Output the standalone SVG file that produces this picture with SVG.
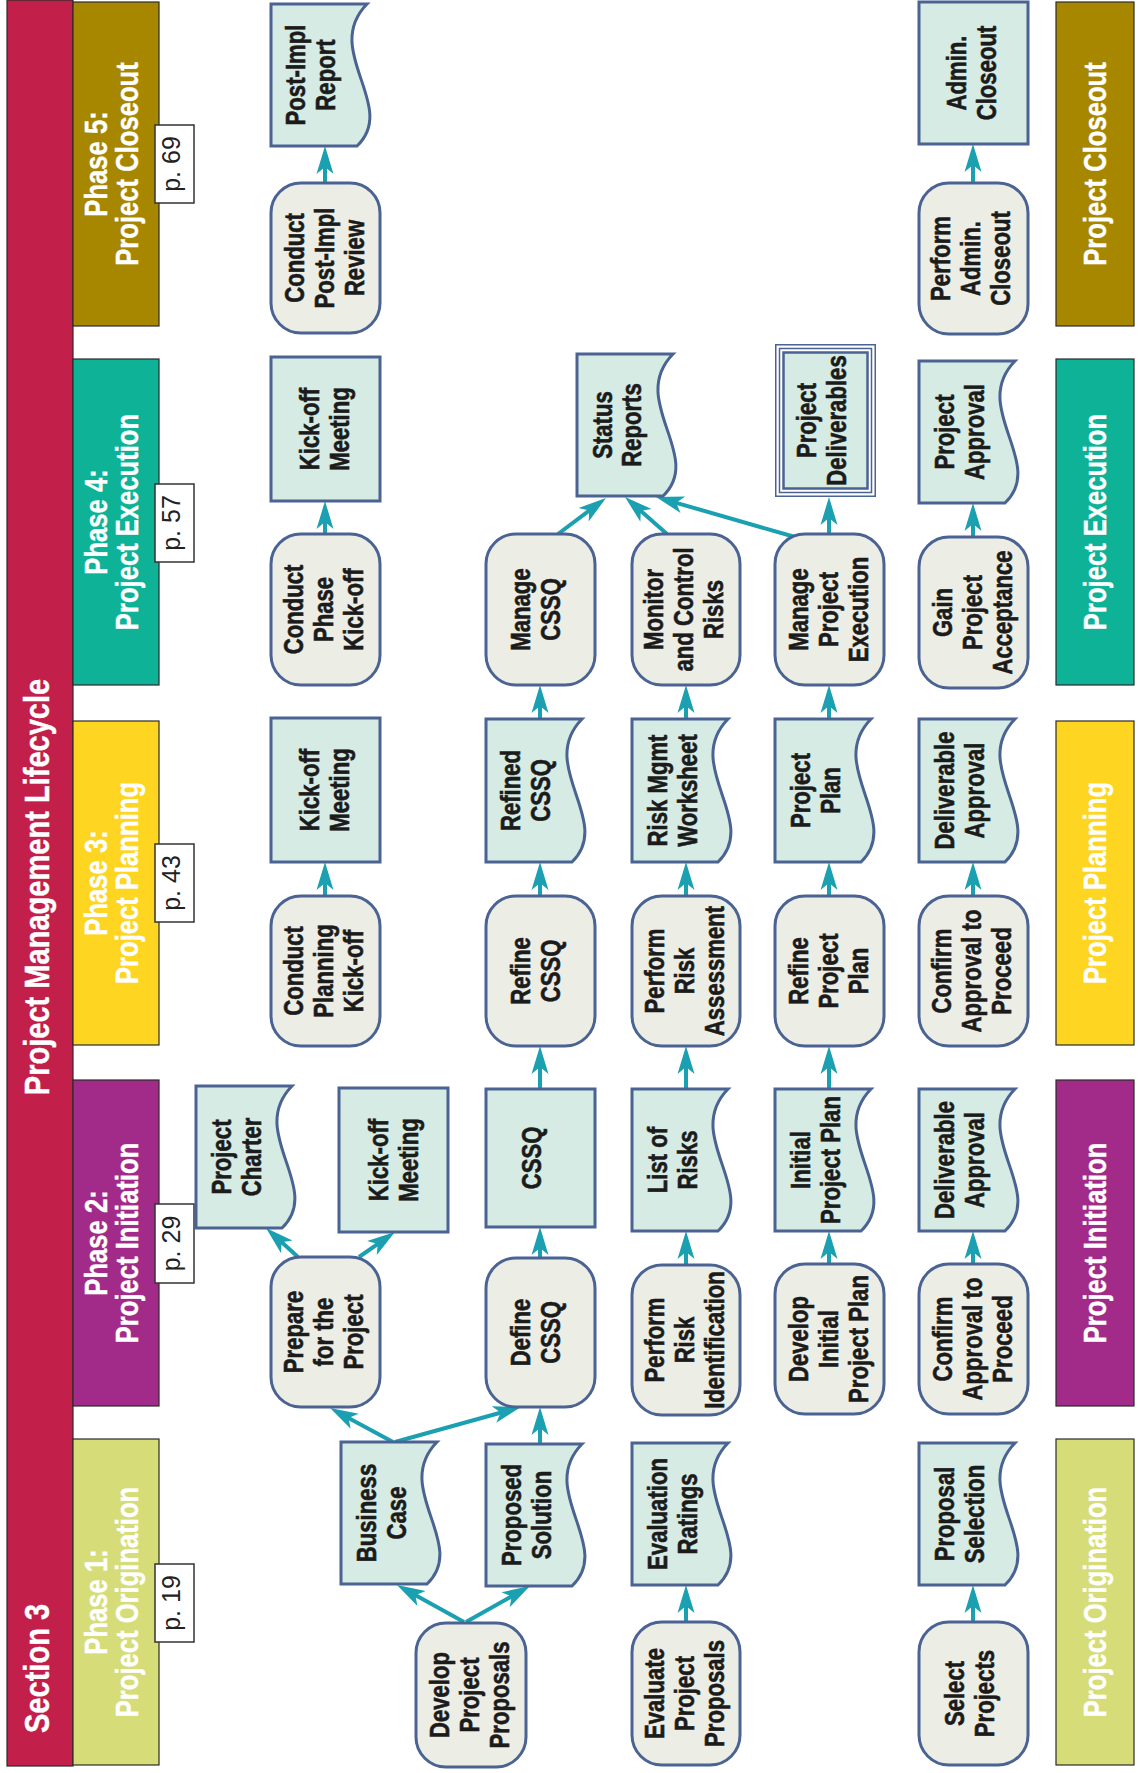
<svg xmlns="http://www.w3.org/2000/svg" width="1140" height="1773" viewBox="0 0 1140 1773">
<defs>
<style>
.proc{fill:#ECEDE5;stroke:#4A6393;stroke-width:3}
.doc{fill:#D5EBE3;stroke:#4A6393;stroke-width:3}
.t{font-family:'Liberation Sans',Arial,sans-serif;font-weight:700;font-size:27px;fill:#1b1b1b;stroke:#1b1b1b;stroke-width:0.6;text-anchor:middle}
.hd{font-family:'Liberation Sans',Arial,sans-serif;font-weight:700;font-size:30.5px;fill:#ffffff;stroke:#ffffff;stroke-width:0.4;text-anchor:middle}
.ttl{font-family:'Liberation Sans',Arial,sans-serif;font-weight:700;font-size:35px;fill:#ffffff;stroke:#ffffff;stroke-width:0.4}
.pbox{fill:#ffffff;stroke:#333333;stroke-width:1.5}
.pg{font-family:'Liberation Sans',Arial,sans-serif;font-size:25px;fill:#222222;text-anchor:middle}
.ph{stroke:#2b2b2b;stroke-width:1.2}
#connectors line{stroke:#1BA0B2;stroke-width:4;marker-end:url(#ah)}
</style>
<marker id="ah" markerUnits="userSpaceOnUse" markerWidth="32" markerHeight="20" viewBox="-18 -10 32 20" refX="0" refY="0" orient="auto">
<path d="M12,0 L-16,-8.5 L-9,0 L-16,8.5 Z" fill="#1BA0B2"/>
</marker>
</defs>
<rect width="1140" height="1773" fill="#ffffff"/>
<g transform="translate(0,1773) rotate(-90)">

<g id="banner">
<rect x="7" y="7" width="1766" height="66" fill="#C21F4A" class="ph"/>
<text class="ttl" transform="translate(40 0) scale(.83 1)" x="0" y="49">Section 3</text>
<text class="ttl" transform="translate(886 0) scale(.83 1)" x="0" y="49" text-anchor="middle">Project Management Lifecycle</text>
</g>

<g id="phase1-header">
<rect x="8" y="73" width="326" height="86" fill="#D6DD78" class="ph"/>
<text class="hd" transform="translate(171 0) scale(.84 1)" y="107"><tspan x="0">Phase 1:</tspan><tspan x="0" dy="31">Project Origination</tspan></text>
<rect class="pbox" x="131" y="155" width="78" height="39"/>
<text class="pg" x="170" y="180">p. 19</text>
</g>
<g id="phase2-header">
<rect x="367" y="73" width="326" height="86" fill="#A22B8A" class="ph"/>
<text class="hd" transform="translate(530 0) scale(.84 1)" y="107"><tspan x="0">Phase 2:</tspan><tspan x="0" dy="31">Project Initiation</tspan></text>
<rect class="pbox" x="490" y="155" width="79" height="39"/>
<text class="pg" x="529.5" y="180">p. 29</text>
</g>
<g id="phase3-header">
<rect x="728" y="73" width="324" height="86" fill="#FED520" class="ph"/>
<text class="hd" transform="translate(890 0) scale(.84 1)" y="107"><tspan x="0">Phase 3:</tspan><tspan x="0" dy="31">Project Planning</tspan></text>
<rect class="pbox" x="851" y="155" width="78" height="39"/>
<text class="pg" x="890" y="180">p. 43</text>
</g>
<g id="phase4-header">
<rect x="1088" y="73" width="326" height="86" fill="#0EB296" class="ph"/>
<text class="hd" transform="translate(1251 0) scale(.84 1)" y="107"><tspan x="0">Phase 4:</tspan><tspan x="0" dy="31">Project Execution</tspan></text>
<rect class="pbox" x="1211" y="155" width="78" height="39"/>
<text class="pg" x="1250" y="180">p. 57</text>
</g>
<g id="phase5-header">
<rect x="1447" y="73" width="324" height="86" fill="#A78700" class="ph"/>
<text class="hd" transform="translate(1609 0) scale(.84 1)" y="107"><tspan x="0">Phase 5:</tspan><tspan x="0" dy="31">Project Closeout</tspan></text>
<rect class="pbox" x="1570" y="155" width="78" height="39"/>
<text class="pg" x="1609" y="180">p. 69</text>
</g>

<g id="phase1-footer"><rect x="8" y="1056" width="326" height="78" fill="#D6DD78" class="ph"/><text class="hd" transform="translate(171 0) scale(.84 1)" x="0" y="1106">Project Origination</text></g>
<g id="phase2-footer"><rect x="367" y="1056" width="326" height="78" fill="#A22B8A" class="ph"/><text class="hd" transform="translate(530 0) scale(.84 1)" x="0" y="1106">Project Initiation</text></g>
<g id="phase3-footer"><rect x="728" y="1056" width="324" height="78" fill="#FED520" class="ph"/><text class="hd" transform="translate(890 0) scale(.84 1)" x="0" y="1106">Project Planning</text></g>
<g id="phase4-footer"><rect x="1088" y="1056" width="326" height="78" fill="#0EB296" class="ph"/><text class="hd" transform="translate(1251 0) scale(.84 1)" x="0" y="1106">Project Execution</text></g>
<g id="phase5-footer"><rect x="1447" y="1056" width="324" height="78" fill="#A78700" class="ph"/><text class="hd" transform="translate(1609 0) scale(.84 1)" x="0" y="1106">Project Closeout</text></g>

<g id="connectors">
<line x1="151" y1="464" x2="182.2" y2="407.5"/>
<line x1="151" y1="466" x2="181.1" y2="519.5"/>
<line x1="331" y1="393" x2="359.3" y2="340.6"/>
<line x1="331" y1="395" x2="362.8" y2="509.4"/>
<line x1="329" y1="540" x2="354" y2="540"/>
<line x1="151" y1="686" x2="176" y2="686"/>
<line x1="151" y1="973" x2="176" y2="973"/>
<line x1="516" y1="298" x2="536.9" y2="274.9"/>
<line x1="516" y1="359" x2="534.1" y2="385.1"/>
<line x1="515" y1="540" x2="534" y2="540"/>
<line x1="508" y1="686" x2="530" y2="686"/>
<line x1="509" y1="829" x2="530" y2="829"/>
<line x1="509" y1="973" x2="530" y2="973"/>
<line x1="684" y1="540" x2="715" y2="540"/>
<line x1="684" y1="686" x2="715" y2="686"/>
<line x1="684" y1="829" x2="715" y2="829"/>
<line x1="877" y1="325" x2="899" y2="325"/>
<line x1="877" y1="540" x2="899" y2="540"/>
<line x1="877" y1="686" x2="899" y2="686"/>
<line x1="877" y1="829" x2="899" y2="829"/>
<line x1="877" y1="973" x2="899" y2="973"/>
<line x1="1054" y1="540" x2="1076" y2="540"/>
<line x1="1054" y1="686" x2="1076" y2="686"/>
<line x1="1054" y1="829" x2="1076" y2="829"/>
<line x1="1239" y1="325" x2="1260" y2="325"/>
<line x1="1239" y1="558" x2="1267.8" y2="596.4"/>
<line x1="1239" y1="667" x2="1268.1" y2="634"/>
<line x1="1236" y1="795" x2="1272.7" y2="667.5"/>
<line x1="1239" y1="829" x2="1264" y2="829"/>
<line x1="1236" y1="973" x2="1258" y2="973"/>
<line x1="1590" y1="325" x2="1615" y2="325"/>
<line x1="1590" y1="973" x2="1617" y2="973"/>
</g>

<!-- Phase 1 -->
<g id="develop-project-proposals"><rect class="proc" x="6" y="416" width="144" height="110" rx="30"/><text class="t" transform="translate(78 0) scale(.82 1)" y="449"><tspan x="0">Develop</tspan><tspan x="0" dy="30">Project</tspan><tspan x="0" dy="30">Proposals</tspan></text></g>
<g id="business-case"><path class="doc" d="M189,341 H331 V437 C284,391 229,469 189,427 Z"/><text class="t" transform="translate(260 0) scale(.82 1)" y="376"><tspan x="0">Business</tspan><tspan x="0" dy="30">Case</tspan></text></g>
<g id="proposed-solution"><path class="doc" d="M187,486 H329 V582 C282,536 227,614 187,572 Z"/><text class="t" transform="translate(258 0) scale(.82 1)" y="521"><tspan x="0">Proposed</tspan><tspan x="0" dy="30">Solution</tspan></text></g>
<g id="evaluate-project-proposals"><rect class="proc" x="8" y="632" width="143" height="108" rx="30"/><text class="t" transform="translate(79.5 0) scale(.82 1)" y="664"><tspan x="0">Evaluate</tspan><tspan x="0" dy="30">Project</tspan><tspan x="0" dy="30">Proposals</tspan></text></g>
<g id="evaluation-ratings"><path class="doc" d="M188,632 H330 V728 C283,682 228,760 188,718 Z"/><text class="t" transform="translate(259 0) scale(.82 1)" y="667"><tspan x="0">Evaluation</tspan><tspan x="0" dy="30">Ratings</tspan></text></g>
<g id="select-projects"><rect class="proc" x="8" y="919" width="143" height="109" rx="30"/><text class="t" transform="translate(79.5 0) scale(.82 1)" y="964"><tspan x="0">Select</tspan><tspan x="0" dy="30">Projects</tspan></text></g>
<g id="proposal-selection"><path class="doc" d="M188,919 H330 V1015 C283,969 228,1047 188,1005 Z"/><text class="t" transform="translate(259 0) scale(.82 1)" y="954"><tspan x="0">Proposal</tspan><tspan x="0" dy="30">Selection</tspan></text></g>

<!-- Phase 2 -->
<g id="prepare-for-the-project"><rect class="proc" x="366" y="271" width="150" height="109" rx="30"/><text class="t" transform="translate(441 0) scale(.82 1)" y="303"><tspan x="0">Prepare</tspan><tspan x="0" dy="30">for the</tspan><tspan x="0" dy="30">Project</tspan></text></g>
<g id="project-charter"><path class="doc" d="M545,196 H687 V292 C640,246 585,324 545,282 Z"/><text class="t" transform="translate(616 0) scale(.82 1)" y="231"><tspan x="0">Project</tspan><tspan x="0" dy="30">Charter</tspan></text></g>
<g id="kickoff-meeting-2"><rect class="doc" x="541" y="339" width="144" height="109"/><text class="t" transform="translate(613 0) scale(.82 1)" y="388"><tspan x="0">Kick-off</tspan><tspan x="0" dy="30">Meeting</tspan></text></g>
<g id="define-cssq"><rect class="proc" x="366" y="486" width="149" height="109" rx="30"/><text class="t" transform="translate(440.5 0) scale(.82 1)" y="530"><tspan x="0">Define</tspan><tspan x="0" dy="30">CSSQ</tspan></text></g>
<g id="cssq"><rect class="doc" x="546" y="486" width="138" height="109"/><text class="t" transform="translate(615 0) scale(.82 1)" x="0" y="541">CSSQ</text></g>
<g id="perform-risk-identification"><rect class="proc" x="358" y="632" width="150" height="108" rx="30"/><text class="t" transform="translate(433 0) scale(.82 1)" y="664"><tspan x="0">Perform</tspan><tspan x="0" dy="30">Risk</tspan><tspan x="0" dy="30">Identification</tspan></text></g>
<g id="list-of-risks"><path class="doc" d="M542,632 H684 V728 C637,682 582,760 542,718 Z"/><text class="t" transform="translate(613 0) scale(.82 1)" y="667"><tspan x="0">List of</tspan><tspan x="0" dy="30">Risks</tspan></text></g>
<g id="develop-initial-project-plan"><rect class="proc" x="359" y="775" width="150" height="109" rx="30"/><text class="t" transform="translate(434 0) scale(.82 1)" y="808"><tspan x="0">Develop</tspan><tspan x="0" dy="30">Initial</tspan><tspan x="0" dy="30">Project Plan</tspan></text></g>
<g id="initial-project-plan"><path class="doc" d="M542,775 H684 V871 C637,825 582,903 542,861 Z"/><text class="t" transform="translate(613 0) scale(.82 1)" y="810"><tspan x="0">Initial</tspan><tspan x="0" dy="30">Project Plan</tspan></text></g>
<g id="confirm-approval-2"><rect class="proc" x="359" y="919" width="150" height="109" rx="30"/><text class="t" transform="translate(434 0) scale(.82 1)" y="952"><tspan x="0">Confirm</tspan><tspan x="0" dy="30">Approval to</tspan><tspan x="0" dy="30">Proceed</tspan></text></g>
<g id="deliverable-approval-2"><path class="doc" d="M542,919 H684 V1015 C637,969 582,1047 542,1005 Z"/><text class="t" transform="translate(613 0) scale(.82 1)" y="954"><tspan x="0">Deliverable</tspan><tspan x="0" dy="30">Approval</tspan></text></g>

<!-- Phase 3 -->
<g id="conduct-planning-kickoff"><rect class="proc" x="727" y="271" width="150" height="109" rx="30"/><text class="t" transform="translate(802 0) scale(.82 1)" y="303"><tspan x="0">Conduct</tspan><tspan x="0" dy="30">Planning</tspan><tspan x="0" dy="30">Kick-off</tspan></text></g>
<g id="kickoff-meeting-3"><rect class="doc" x="911" y="271" width="144" height="109"/><text class="t" transform="translate(983 0) scale(.82 1)" y="319"><tspan x="0">Kick-off</tspan><tspan x="0" dy="30">Meeting</tspan></text></g>
<g id="refine-cssq"><rect class="proc" x="727" y="486" width="150" height="109" rx="30"/><text class="t" transform="translate(802 0) scale(.82 1)" y="530"><tspan x="0">Refine</tspan><tspan x="0" dy="30">CSSQ</tspan></text></g>
<g id="refined-cssq"><path class="doc" d="M911,486 H1054 V582 C1007,536 952,614 911,572 Z"/><text class="t" transform="translate(982.5 0) scale(.82 1)" y="520"><tspan x="0">Refined</tspan><tspan x="0" dy="30">CSSQ</tspan></text></g>
<g id="perform-risk-assessment"><rect class="proc" x="727" y="632" width="150" height="108" rx="30"/><text class="t" transform="translate(802 0) scale(.82 1)" y="664"><tspan x="0">Perform</tspan><tspan x="0" dy="30">Risk</tspan><tspan x="0" dy="30">Assessment</tspan></text></g>
<g id="risk-mgmt-worksheet"><path class="doc" d="M911,632 H1054 V728 C1007,682 952,760 911,718 Z"/><text class="t" transform="translate(982.5 0) scale(.82 1)" y="667"><tspan x="0">Risk Mgmt</tspan><tspan x="0" dy="30">Worksheet</tspan></text></g>
<g id="refine-project-plan"><rect class="proc" x="727" y="775" width="150" height="109" rx="30"/><text class="t" transform="translate(802 0) scale(.82 1)" y="808"><tspan x="0">Refine</tspan><tspan x="0" dy="30">Project</tspan><tspan x="0" dy="30">Plan</tspan></text></g>
<g id="project-plan"><path class="doc" d="M911,775 H1054 V871 C1007,825 952,903 911,861 Z"/><text class="t" transform="translate(982.5 0) scale(.82 1)" y="810"><tspan x="0">Project</tspan><tspan x="0" dy="30">Plan</tspan></text></g>
<g id="confirm-approval-3"><rect class="proc" x="727" y="919" width="150" height="109" rx="30"/><text class="t" transform="translate(802 0) scale(.82 1)" y="951"><tspan x="0">Confirm</tspan><tspan x="0" dy="30">Approval to</tspan><tspan x="0" dy="30">Proceed</tspan></text></g>
<g id="deliverable-approval-3"><path class="doc" d="M911,919 H1054 V1015 C1007,969 952,1047 911,1005 Z"/><text class="t" transform="translate(982.5 0) scale(.82 1)" y="954"><tspan x="0">Deliverable</tspan><tspan x="0" dy="30">Approval</tspan></text></g>

<!-- Phase 4 -->
<g id="conduct-phase-kickoff"><rect class="proc" x="1088" y="271" width="151" height="109" rx="30"/><text class="t" transform="translate(1163.5 0) scale(.82 1)" y="303"><tspan x="0">Conduct</tspan><tspan x="0" dy="30">Phase</tspan><tspan x="0" dy="30">Kick-off</tspan></text></g>
<g id="kickoff-meeting-4"><rect class="doc" x="1272" y="271" width="144" height="109"/><text class="t" transform="translate(1344 0) scale(.82 1)" y="319"><tspan x="0">Kick-off</tspan><tspan x="0" dy="30">Meeting</tspan></text></g>
<g id="manage-cssq"><rect class="proc" x="1088" y="486" width="151" height="109" rx="30"/><text class="t" transform="translate(1163.5 0) scale(.82 1)" y="530"><tspan x="0">Manage</tspan><tspan x="0" dy="30">CSSQ</tspan></text></g>
<g id="status-reports"><path class="doc" d="M1277,577 H1419 V673 C1372,627 1317,705 1277,663 Z"/><text class="t" transform="translate(1348 0) scale(.82 1)" y="612"><tspan x="0">Status</tspan><tspan x="0" dy="29">Reports</tspan></text></g>
<g id="monitor-control-risks"><rect class="proc" x="1088" y="632" width="151" height="108" rx="30"/><text class="t" transform="translate(1163.5 0) scale(.82 1)" y="663"><tspan x="0">Monitor</tspan><tspan x="0" dy="30">and Control</tspan><tspan x="0" dy="30">Risks</tspan></text></g>
<g id="manage-project-execution"><rect class="proc" x="1088" y="775" width="151" height="109" rx="30"/><text class="t" transform="translate(1163.5 0) scale(.82 1)" y="808"><tspan x="0">Manage</tspan><tspan x="0" dy="30">Project</tspan><tspan x="0" dy="30">Execution</tspan></text></g>
<g id="project-deliverables">
<rect x="1276.75" y="775.75" width="151.5" height="99.5" fill="#ffffff" stroke="#4A6393" stroke-width="1.5"/>
<rect x="1280.5" y="779.5" width="144" height="92" fill="none" stroke="#4A6393" stroke-width="1.5"/>
<rect x="1284.5" y="783.5" width="136" height="84" fill="#D5EBE3" stroke="#4A6393" stroke-width="2.5"/>
<text class="t" transform="translate(1352.5 0) scale(.82 1)" y="816"><tspan x="0">Project</tspan><tspan x="0" dy="30">Deliverables</tspan></text></g>
<g id="gain-project-acceptance"><rect class="proc" x="1085" y="919" width="151" height="109" rx="30"/><text class="t" transform="translate(1160.5 0) scale(.82 1)" y="952"><tspan x="0">Gain</tspan><tspan x="0" dy="30">Project</tspan><tspan x="0" dy="30">Acceptance</tspan></text></g>
<g id="project-approval"><path class="doc" d="M1270,919 H1412 V1015 C1365,969 1310,1047 1270,1005 Z"/><text class="t" transform="translate(1341 0) scale(.82 1)" y="954"><tspan x="0">Project</tspan><tspan x="0" dy="30">Approval</tspan></text></g>

<!-- Phase 5 -->
<g id="conduct-post-impl-review"><rect class="proc" x="1440" y="271" width="150" height="109" rx="30"/><text class="t" transform="translate(1515 0) scale(.82 1)" y="304"><tspan x="0">Conduct</tspan><tspan x="0" dy="30">Post-Impl</tspan><tspan x="0" dy="30">Review</tspan></text></g>
<g id="post-impl-report"><path class="doc" d="M1627,271 H1769 V367 C1722,321 1667,399 1627,357 Z"/><text class="t" transform="translate(1698 0) scale(.82 1)" y="305"><tspan x="0">Post-Impl</tspan><tspan x="0" dy="30">Report</tspan></text></g>
<g id="perform-admin-closeout"><rect class="proc" x="1439" y="919" width="151" height="109" rx="30"/><text class="t" transform="translate(1514.5 0) scale(.82 1)" y="950"><tspan x="0">Perform</tspan><tspan x="0" dy="30">Admin.</tspan><tspan x="0" dy="30">Closeout</tspan></text></g>
<g id="admin-closeout"><rect class="doc" x="1629" y="919" width="142" height="109"/><text class="t" transform="translate(1700 0) scale(.82 1)" y="966"><tspan x="0">Admin.</tspan><tspan x="0" dy="30">Closeout</tspan></text></g>

</g>
</svg>
